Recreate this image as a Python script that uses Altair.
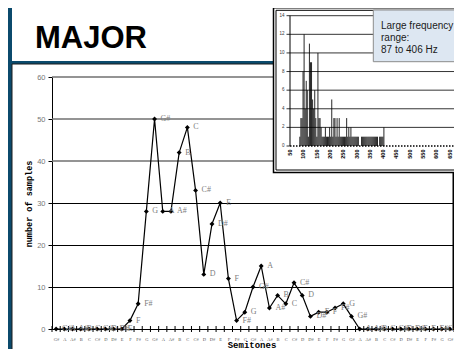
import altair as alt
import pandas as pd

# ---------------- data ----------------
notes = ["G#", "A", "A#", "B", "C", "C#", "D", "D#", "E", "F", "F#", "G",
         "G#", "A", "A#", "B", "C", "C#", "D", "D#", "E", "F", "F#", "G",
         "G#", "A", "A#", "B", "C", "C#", "D", "D#", "E", "F", "F#", "G",
         "G#", "A", "A#", "B", "C", "C#", "D", "D#", "E", "F", "F#", "G",
         "G#"]
counts = [0, 0, 0, 0, 0, 0, 0, 0, 0, 2, 6, 28,
          50, 28, 28, 42, 48, 33, 13, 25, 30, 12, 2, 4,
          10, 15, 5, 8, 6, 11, 8, 3, 4, 4, 5, 6,
          3, 0, 0, 0, 0, 0, 0, 0, 0, 0, 0, 0,
          0]
y_ticks = [0, 10, 20, 30, 40, 50, 60]

# inset: frequency histogram (Hz bins)
hz_bins = list(range(87, 407, 4))
hz_counts = [1, 3, 3, 8, 12, 4, 7, 6, 1, 11, 9, 9, 5, 4, 6, 3, 1, 10, 3, 3,
             2, 1, 1, 1, 2, 1, 1, 1, 2, 1, 5, 1, 3, 3, 1, 3, 1, 3, 1, 1,
             1, 1, 1, 1, 3, 1, 2, 1, 2, 1, 1, 1, 1, 1, 1, 1, 0, 0, 1, 1,
             1, 1, 1, 1, 1, 1, 1, 1, 1, 1, 1, 1, 1, 1, 0, 1, 1, 1, 1, 2]
inset_y_ticks = [0, 2, 4, 6, 8, 10, 12, 14]
inset_x_labels = [50, 100, 150, 200, 250, 300, 350, 400, 450, 500, 550, 600, 650, 700]
box_text = ["Large frequency", "range:", "87 to 406 Hz"]

# ---------------- layout ----------------
W, H = 402, 252
INSET_L, INSET_B = 221.5, 95.5
BLUE = "#0b4a6c"
one = pd.DataFrame({"a": [1]})
x_dom = [-0.5, 48.5]
y_dom = [0, 60]
STEP = W / (x_dom[1] - x_dom[0])

def rect(x, x2, y, y2, **kw):
    return alt.Chart(one).mark_rect(**kw).encode(
        x=alt.value(x), x2=alt.value(x2), y=alt.value(y), y2=alt.value(y2))

def vrule(x, y, y2, **kw):
    return alt.Chart(one).mark_rule(**kw).encode(
        x=alt.value(x), y=alt.value(y), y2=alt.value(y2))

def hrule(x, x2, y, **kw):
    return alt.Chart(one).mark_rule(**kw).encode(
        x=alt.value(x), x2=alt.value(x2), y=alt.value(y))

def y_px(v):
    # same linear mapping as the main y scale (domain 0..60 -> H..0)
    return H - (v - y_dom[0]) / (y_dom[1] - y_dom[0]) * H

# decorations (white canvas, blue frame pieces)
blue_left = rect(-44, -40, -69, 272, fill=BLUE)
blue_top = rect(-44, 225, -69, -13, fill=BLUE)
box_line = hrule(-40, W, -13, color="#1d1d1d", strokeWidth=1)
box_line2 = vrule(-40, -13, 272, color="#1d1d1d", strokeWidth=1)
title_box = rect(-40, 225, -72, -16, fill="white")
title_txt = alt.Chart(one).mark_text(
    text="MAJOR", font="Liberation Sans", fontWeight="bold", fontSize=31,
    align="left", baseline="alphabetic", color="black"
).encode(x=alt.value(-17), y=alt.value(-28.7))
ytitle = alt.Chart(one).mark_text(
    text="number of samples", font="Liberation Mono", fontWeight="bold",
    fontSize=8.5, angle=270, align="center", baseline="middle", color="black"
).encode(x=alt.value(-23.5), y=alt.value(127))
xtitle = alt.Chart(one).mark_text(
    text="Semitones", font="Liberation Mono", fontWeight="bold",
    fontSize=9, align="center", baseline="alphabetic", color="black"
).encode(x=alt.value(200), y=alt.value(270.5))

# gridlines (chart furniture) as thin filled strips at the tick values
grid_layers = []
for g in y_ticks[1:]:
    py = y_px(g)
    if g >= 40:
        grid_layers.append(rect(0, W, py - 0.7, py + 0.7, fill="#707070"))
    else:
        grid_layers.append(rect(0, W, py, py + 1, fill="#000000"))
border = rect(W - 1.5, W, INSET_B, H, fill="#000000")

# ---------------- main chart ----------------
label_expr = "[" + ",".join("'%s'" % n for n in notes) + "][datum.value]"
x_axis = alt.Axis(values=list(range(len(notes))), labelExpr=label_expr, ticks=False,
                  grid=False, domainColor="black", domainWidth=1, orient="bottom",
                  labelFont="Liberation Serif", labelFontSize=4.5, labelColor="#555",
                  labelPadding=7, labelAngle=0, labelOverlap=False, labelFlush=False,
                  title=None)
y_axis = alt.Axis(values=y_ticks, grid=False,
                  domainColor="black", tickColor="black",
                  tickSize=4, orient="left", labelFont="Liberation Sans",
                  labelFontSize=7.5, labelColor="#777", labelPadding=3, title=None)

def xsc():
    return alt.Scale(domain=x_dom, range=[0, W], nice=False, zero=False)

def ysc():
    return alt.Scale(domain=y_dom, range=[H, 0], nice=False, zero=False)

def XP(field):
    return alt.X(field, scale=xsc(), axis=None)

def YP(field):
    return alt.Y(field, scale=ysc(), axis=None)

main_df = pd.DataFrame({"idx": list(range(len(notes))), "v": counts, "note": notes})

# cross tick marks between categories (half a category left of each point,
# plus one after the last category)
ticks_a = alt.Chart(main_df).mark_rule(color="black", strokeWidth=1,
                                       xOffset=-STEP / 2).encode(
    x=XP("idx:Q"), y=alt.value(H - 3), y2=alt.value(H + 3))
ticks_b = alt.Chart(main_df).transform_filter(
    "datum.idx == %d" % (len(notes) - 1)
).mark_rule(color="black", strokeWidth=1, xOffset=STEP / 2).encode(
    x=XP("idx:Q"), y=alt.value(H - 3), y2=alt.value(H + 3))

X = alt.X("idx:Q", scale=xsc(), axis=x_axis)
Y = alt.Y("v:Q", scale=ysc(), axis=y_axis)
line = alt.Chart(main_df).mark_line(color="black", strokeWidth=1.2).encode(x=X, y=Y)
pts = alt.Chart(main_df).mark_point(shape="diamond", filled=True, color="black",
                                    size=24, opacity=1).encode(
    x=XP("idx:Q"), y=YP("v:Q"))
lbls = alt.Chart(main_df).mark_text(align="left", baseline="middle", dx=6,
                                    font="Liberation Serif", fontSize=8,
                                    color="#808080").encode(
    x=XP("idx:Q"), y=YP("v:Q"), text="note:N")

# ---------------- inset ----------------
def ixs():
    return alt.Scale(domain=[50, 725], range=[238, 417.55], nice=False, zero=False)

def iys():
    return alt.Scale(domain=[0, 14], range=[69, -61.3], nice=False, zero=False)

frame_out = rect(INSET_L, 425, -69.2, INSET_B, fill="white", stroke="black", strokeWidth=1.5)
frame_in = rect(224, 425, -66.7, 93, fillOpacity=0, stroke="black", strokeWidth=1)

iy_df = pd.DataFrame({"n": inset_y_ticks})
igrid = alt.Chart(pd.DataFrame({"n": inset_y_ticks[1:]})).mark_rule(
    color="black", strokeWidth=0.8).encode(
    y=alt.Y("n:Q", scale=iys(), axis=None), x=alt.value(238), x2=alt.value(425))
iaxis = vrule(238, -61.3, 69, color="black", strokeWidth=1)
iticks = alt.Chart(iy_df).mark_rule(color="black", strokeWidth=0.8).encode(
    y=alt.Y("n:Q", scale=iys(), axis=None), x=alt.value(234.5), x2=alt.value(238))
ilabels = alt.Chart(iy_df).mark_text(align="right", baseline="middle", fontSize=4.5,
                                     font="Liberation Sans", color="#333").encode(
    x=alt.value(232.5), y=alt.Y("n:Q", scale=iys(), axis=None), text="n:Q")
bar_df = pd.DataFrame({"hz": hz_bins, "n": hz_counts, "n0": [0] * len(hz_bins)})
bars = alt.Chart(bar_df).mark_rule(color="black", strokeWidth=0.85).encode(
    x=alt.X("hz:Q", scale=ixs(), axis=None),
    y=alt.Y("n:Q", scale=iys(), axis=None), y2="n0:Q")
ibase = hrule(238, 425, 69, color="black", strokeWidth=1.6, strokeDash=[1.5, 1.5])
ixlab = alt.Chart(pd.DataFrame({"hz": inset_x_labels})).mark_text(
    angle=270, align="right", baseline="middle", fontWeight="bold", fontSize=5.5,
    font="Liberation Sans", color="black").encode(
    x=alt.X("hz:Q", scale=ixs(), axis=None), y=alt.value(72.5), text="hz:Q")
tbox = rect(321.3, 425, -67, -15.3, fill="#dde7f2", stroke="#8c8c8c", strokeWidth=1)
ttext = alt.Chart(one).mark_text(
    text=box_text, align="left", baseline="alphabetic", lineHeight=12,
    font="Liberation Sans", fontSize=10, color="#1a1a1a").encode(
    x=alt.value(329), y=alt.value(-48))

chart = alt.layer(
    blue_left, blue_top, box_line, box_line2, title_box, title_txt, ytitle, xtitle,
    *grid_layers, border, ticks_a, ticks_b, line, pts, lbls,
    frame_out, frame_in, igrid, iaxis, iticks, ilabels, bars, ibase, ixlab, tbox, ttext
).resolve_scale(
    x="independent", y="independent"
).properties(
    width=W, height=H,
    padding={"left": 44, "top": 69, "right": 0, "bottom": 20},
    autosize=alt.AutoSizeParams(type="none"),
).configure(
    background="white"
).configure_view(strokeWidth=0)

chart.save("out.html", embed_options={"renderer": "svg", "actions": False})
